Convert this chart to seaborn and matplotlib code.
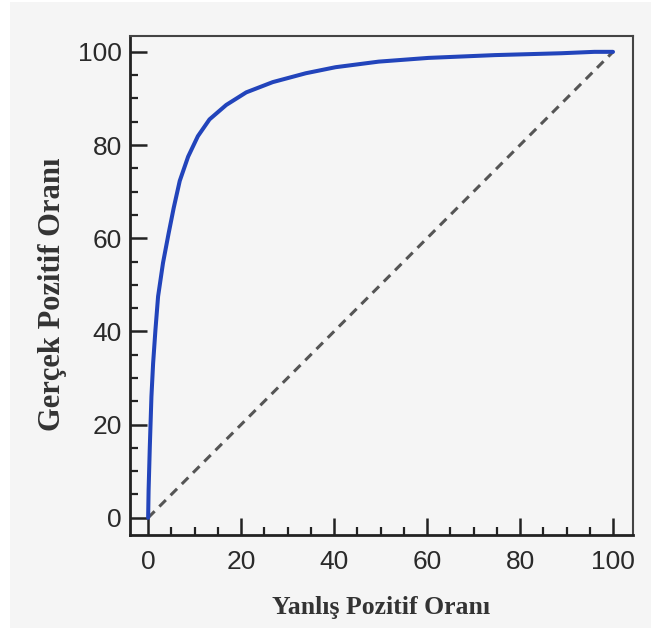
import matplotlib
matplotlib.use("Agg")
import matplotlib.pyplot as plt
import seaborn as sns
import pandas as pd
from matplotlib.patches import Rectangle
from matplotlib.ticker import MultipleLocator

# ROC curve values
fpr = [0, 0.1, 0.36, 0.71, 1.07, 1.57, 2.14, 3.2, 4.4, 5.5, 6.8, 8.6, 10.7,
       13.2, 16.8, 21.1, 26.8, 33.9, 40.3, 49.6, 60.3, 74.6, 88.9, 96.0, 100]
tpr = [0, 5.9, 15.2, 26.0, 33.1, 40.3, 47.5, 54.7, 61.0, 66.5, 72.3, 77.5, 81.9,
       85.5, 88.6, 91.3, 93.5, 95.4, 96.7, 97.9, 98.7, 99.3, 99.7, 100.0, 100]
diag_x = [0, 100]
diag_y = [0, 100]
x_ticks = [0, 20, 40, 60, 80, 100]
y_ticks = [0, 20, 40, 60, 80, 100]
x_label = "Yanlış Pozitif Oranı"
y_label = "Gerçek Pozitif Oranı"

sns.set_theme(style="white")
plt.rcParams['font.family'] = ['Liberation Sans', 'DejaVu Sans']

bg = "#f5f5f5"
fig = plt.figure(figsize=(6.51, 6.30), dpi=100, facecolor="white")
fig.patches.append(Rectangle((10 / 651, 2 / 630), 641 / 651, 626 / 630,
                             transform=fig.transFigure, facecolor=bg,
                             edgecolor="none", zorder=-10))
ax = fig.add_axes([130 / 651, 1 - 535 / 630, 503 / 651, 499 / 630])
ax.set_facecolor(bg)

df = pd.DataFrame({"fpr": fpr, "tpr": tpr})
ddf = pd.DataFrame({"x": diag_x, "y": diag_y})
sns.lineplot(data=ddf, x="x", y="y", ax=ax, color="#555555", lw=2.2,
             linestyle=(0, (3, 2.2)), sort=False)
sns.lineplot(data=df, x="fpr", y="tpr", ax=ax, color="#2244bb", lw=2.9,
             sort=False, solid_capstyle="round", solid_joinstyle="round")

ax.set_xlim(-3.9, 104.3)
ax.set_ylim(-3.7, 103.4)
ax.set_xticks(x_ticks)
ax.set_yticks(y_ticks)
ax.xaxis.set_minor_locator(MultipleLocator(5))
ax.yaxis.set_minor_locator(MultipleLocator(5))
ax.tick_params(axis="both", which="major", direction="in", length=12.5,
               width=1.8, color="#222222", labelsize=19, labelcolor="#2a2a2a")
ax.tick_params(axis="both", which="minor", direction="in", length=6,
               width=1.6, color="#222222")
ax.tick_params(axis="x", which="both", bottom=True, top=False, pad=11)
ax.tick_params(axis="y", which="both", left=True, right=False, pad=6)

for s in ["left", "bottom"]:
    ax.spines[s].set_color("#222222")
    ax.spines[s].set_linewidth(2.0)
for s in ["top", "right"]:
    ax.spines[s].set_color("#444444")
    ax.spines[s].set_linewidth(1.5)

ax.set_xlabel(x_label, family=["Liberation Serif", "DejaVu Serif"],
              fontweight="bold", fontsize=18.5, color="#333333")
ax.set_ylabel(y_label, family=["Liberation Serif", "DejaVu Serif"],
              fontweight="bold", fontsize=22, color="#333333")
ax.xaxis.set_label_coords(0.5, -0.123)
ax.yaxis.set_label_coords(-0.126, 0.483)

fig.savefig("out.png", dpi=100, facecolor=fig.get_facecolor())
